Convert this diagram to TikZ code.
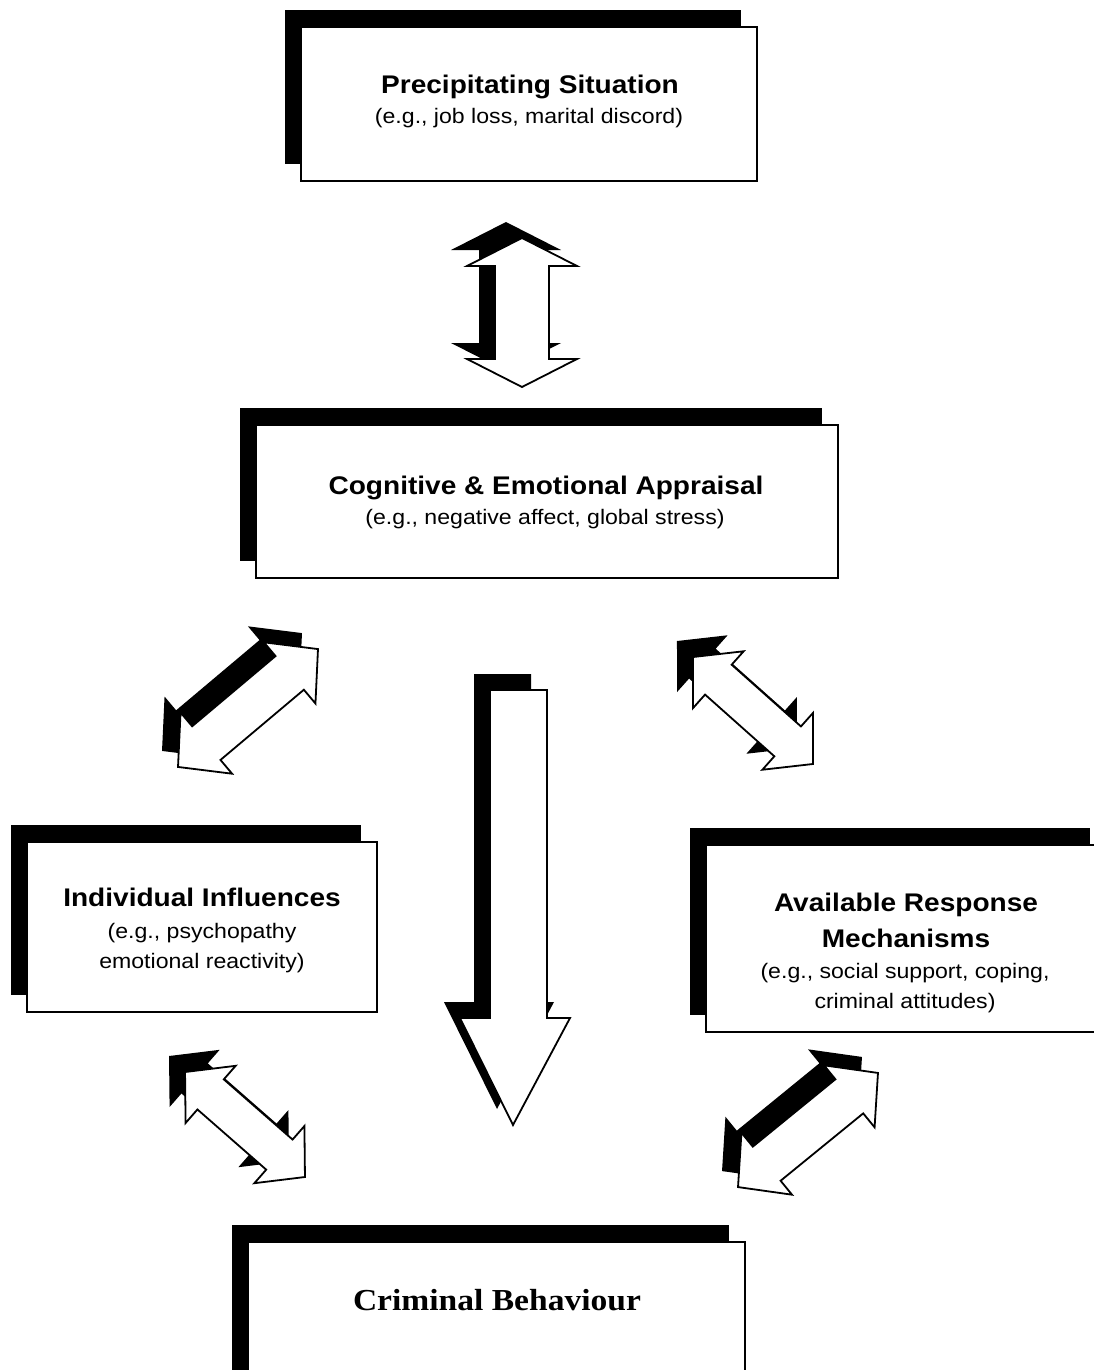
\documentclass[tikz,border=0pt]{standalone}
\usepackage{fontspec}
\setmainfont{Liberation Sans}
\newfontfamily\sansx[FakeStretch=1.1]{Liberation Sans}
\newfontfamily\serifx[FakeStretch=1.1]{Liberation Serif}
\usetikzlibrary{shadows}

\tikzset{
  frontbox/.style={draw=black, line width=1.8pt, fill=white, inner sep=0pt,
    general shadow={fill=black, shadow xshift=-16pt, shadow yshift=17pt}},
  headtxt/.style={anchor=base, inner sep=0pt, font=\sansx\bfseries\fontsize{25.5}{30}\selectfont},
  subtxt/.style={anchor=base, inner sep=0pt, font=\sansx\fontsize{21}{25}\selectfont},
  serifhead/.style={anchor=base, inner sep=0pt, font=\serifx\bfseries\fontsize{30.5}{36}\selectfont},
  arrowfront/.style={fill=white, draw=black, line width=1.8pt, line join=miter},
  arrowshadow/.style={fill=black},
}

% #1 x, #2 y (centre), #3 angle, #4 half length, #5 head length, #6 head half width, #7 shaft half width
\newcommand{\blockdbl}[7]{%
  \fill[arrowshadow, shift={(#1-16,#2-16)}, rotate=#3]
    (-#4,0) -- (-#4+#5,#6) -- (-#4+#5,#7) -- (#4-#5,#7) -- (#4-#5,#6) -- (#4,0)
    -- (#4-#5,-#6) -- (#4-#5,-#7) -- (-#4+#5,-#7) -- (-#4+#5,-#6) -- cycle;
  \filldraw[arrowfront, shift={(#1,#2)}, rotate=#3]
    (-#4,0) -- (-#4+#5,#6) -- (-#4+#5,#7) -- (#4-#5,#7) -- (#4-#5,#6) -- (#4,0)
    -- (#4-#5,-#6) -- (#4-#5,-#7) -- (-#4+#5,-#7) -- (-#4+#5,-#6) -- cycle;
}

\begin{document}
\begin{tikzpicture}[x=1pt, y=-1pt]
\useasboundingbox (0,0) rectangle (1094,1370);
\fill[white] (0,0) rectangle (1094,1370);
\clip (0,0) rectangle (1094,1370);

% boxes
\node[frontbox, minimum width=456pt, minimum height=154pt] (prec) at (529,104) {};
\node[frontbox, minimum width=582pt, minimum height=153pt] (cog) at (547,501.5) {};
\node[frontbox, minimum width=350pt, minimum height=170pt] (ind) at (202,927) {};
\node[frontbox, minimum width=400pt, minimum height=187pt] (avail) at (906,938.5) {};
\node[frontbox, minimum width=497pt, minimum height=148pt] (crim) at (496.5,1316) {};

% texts
\node[headtxt] (precT) at (530,94) {Precipitating Situation};
\node[subtxt] (precS) at (529,124) {(e.g., job loss, marital discord)};

\node[headtxt] (cogT) at (546,494) {Cognitive \& Emotional Appraisal};
\node[subtxt] (cogS) at (545,524) {(e.g., negative affect, global stress)};

\node[headtxt] (indT) at (202,906) {Individual Influences};
\node[subtxt] (indS1) at (202,938) {(e.g., psychopathy};
\node[subtxt] (indS2) at (202,968) {emotional reactivity)};

\node[headtxt] (availT1) at (906,911) {Available Response};
\node[headtxt] (availT2) at (906,947) {Mechanisms};
\node[subtxt] (availS1) at (905,978) {(e.g., social support, coping,};
\node[subtxt] (availS2) at (905,1008) {criminal attitudes)};

\node[serifhead] (crimT) at (497,1310) {Criminal Behaviour};

% double block arrows
\blockdbl{522}{312.5}{90}{74.5}{28}{55}{27}
\blockdbl{248}{708}{40.1}{91.5}{37}{40}{22}
\blockdbl{753}{710.5}{-41.7}{80.4}{34}{38}{20}
\blockdbl{245}{1124.5}{-41.2}{79.7}{34}{38}{20}
\blockdbl{808}{1130}{39.2}{90.3}{37}{40}{22}

% main down arrow
\fill[arrowshadow, shift={(-16,-16)}]
  (490,690) -- (547,690) -- (547,1018) -- (570,1018) -- (513,1125) -- (460,1018) -- (490,1018) -- cycle;
\filldraw[arrowfront]
  (490,690) -- (547,690) -- (547,1018) -- (570,1018) -- (513,1125) -- (460,1018) -- (490,1018) -- cycle;
\end{tikzpicture}
\end{document}
